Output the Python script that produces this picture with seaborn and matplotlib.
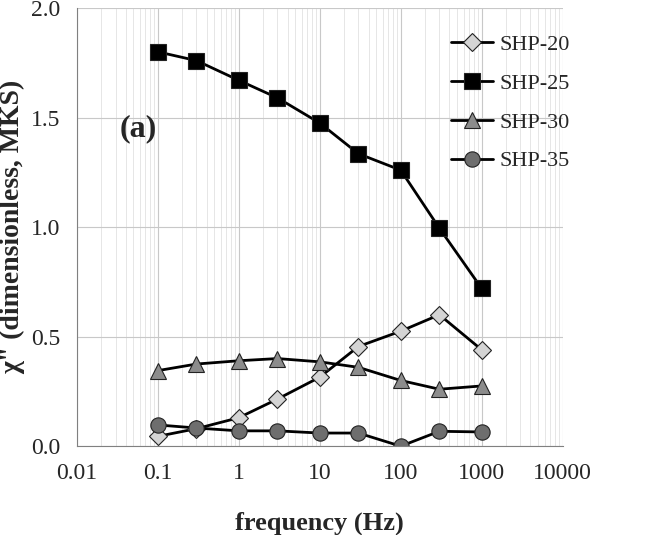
import matplotlib
matplotlib.use("Agg")
import matplotlib.pyplot as plt
import matplotlib.ticker as mticker
import pandas as pd
import seaborn as sns

FREQ = [0.1, 0.3, 1, 3, 10, 30, 100, 300, 1000]
SHP_20 = [0.045, 0.08, 0.13, 0.215, 0.315, 0.455, 0.525, 0.60, 0.44]
SHP_25 = [1.80, 1.76, 1.67, 1.59, 1.475, 1.335, 1.26, 0.995, 0.72]
SHP_30 = [0.345, 0.375, 0.39, 0.40, 0.385, 0.36, 0.30, 0.26, 0.275]
SHP_35 = [0.097, 0.083, 0.07, 0.07, 0.06, 0.06, 0.0, 0.068, 0.065]

SERIES = {"SHP-20": SHP_20, "SHP-25": SHP_25, "SHP-30": SHP_30, "SHP-35": SHP_35}
MARKERS = {"SHP-20": "D", "SHP-25": "s", "SHP-30": "^", "SHP-35": "o"}
FACES = {"SHP-20": "#d4d4d4", "SHP-25": "#000000", "SHP-30": "#8c8c8c", "SHP-35": "#6e6e6e"}
SIZES = {"SHP-20": 9, "SHP-25": 11, "SHP-30": 12, "SHP-35": 11}

df = pd.DataFrame([
    {"freq": f, "chi": v, "series": name}
    for name, vals in SERIES.items() for f, v in zip(FREQ, vals)
])

sns.set_style("white")
plt.rcParams["font.family"] = ["Liberation Serif", "DejaVu Serif"]

fig, ax = plt.subplots(figsize=(6.46, 5.35), dpi=100)
fig.subplots_adjust(left=0.119, right=0.871, top=0.985, bottom=0.166)

for name in SERIES:
    sub = df[df["series"] == name]
    sns.lineplot(data=sub, x="freq", y="chi", ax=ax, color="black", lw=2,
                 marker=MARKERS[name], markersize=SIZES[name],
                 markerfacecolor=FACES[name], markeredgecolor="#222222",
                 markeredgewidth=0.8, label=name)

ax.set_xscale("log")
ax.set_xlim(0.01, 10000)
ax.set_ylim(0, 2.0)
ax.xaxis.set_major_locator(mticker.LogLocator(base=10, numticks=10))
ax.xaxis.set_minor_locator(mticker.LogLocator(base=10, subs=range(2, 10), numticks=100))
ax.xaxis.set_major_formatter(mticker.FuncFormatter(lambda v, _: f"{v:g}"))
ax.xaxis.set_minor_formatter(mticker.NullFormatter())
ax.yaxis.set_major_locator(mticker.MultipleLocator(0.5))
ax.yaxis.set_major_formatter(mticker.FormatStrFormatter("%.1f"))

ax.grid(which="major", color="#c8c8c8", lw=0.8)
ax.grid(which="minor", axis="x", color="#e6e6e6", lw=0.7)
ax.set_axisbelow(True)
for side in ["top", "right"]:
    ax.spines[side].set_visible(False)
for side in ["left", "bottom"]:
    ax.spines[side].set_color("#808080")

ax.tick_params(axis="both", which="major", direction="out", length=5,
               color="#808080", labelsize=17, pad=7)
ax.tick_params(axis="x", which="minor", length=0)

ax.set_xlabel("frequency (Hz)", fontsize=19, fontweight="bold", labelpad=20)
ax.set_ylabel('χ" (dimensionless, MKS)', fontsize=20, fontweight="bold", labelpad=4)
ax.text(0.057, 1.45, "(a)", fontsize=23, fontweight="bold", ha="center", va="center")

ax.legend(loc="upper right", bbox_to_anchor=(1.055, 0.985), frameon=False,
          fontsize=16, handlelength=1.9, labelspacing=0.82, handletextpad=0.25)

fig.savefig("out.png", dpi=100)
